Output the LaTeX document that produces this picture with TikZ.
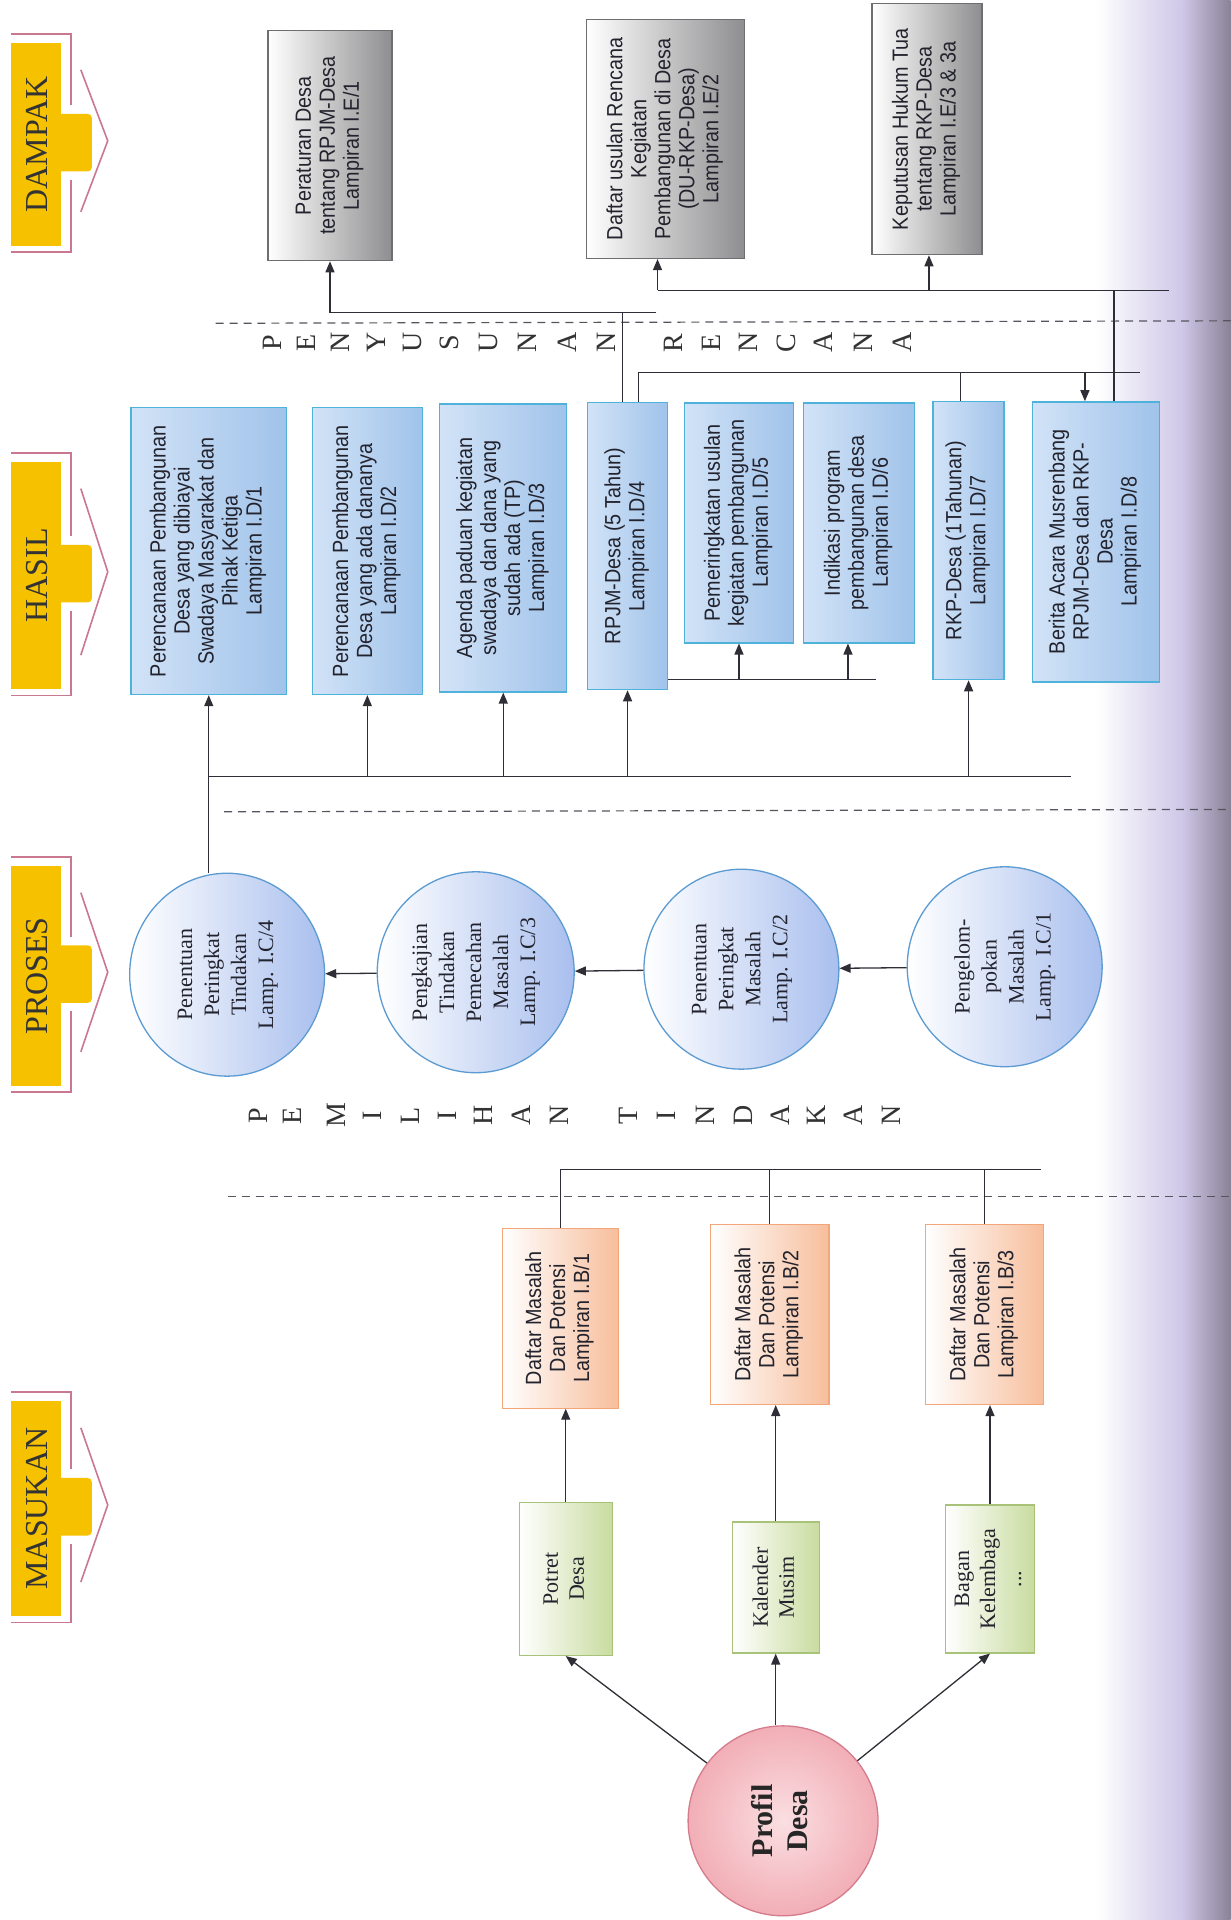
\documentclass[tikz,border=0pt]{standalone}
\usepackage{fontspec}
\setmainfont{Liberation Serif}
\newfontfamily\cond[FakeStretch=0.9]{Liberation Sans}
\usetikzlibrary{arrows.meta,shapes.geometric,calc}
\definecolor{labY}{HTML}{F6C200}
\definecolor{labP}{HTML}{C9788F}
\definecolor{hasL}{HTML}{D2E3F7}
\definecolor{hasR}{HTML}{A0C3EA}
\definecolor{hasB}{HTML}{4FB2DA}
\definecolor{ellR}{HTML}{A9BFEE}
\definecolor{ellB}{HTML}{5C9BD2}
\definecolor{orR}{HTML}{F7BE9C}
\definecolor{orB}{HTML}{F2A679}
\definecolor{grR}{HTML}{C9DCA0}
\definecolor{grB}{HTML}{A9C27A}
\definecolor{gyR}{HTML}{8E8E90}
\definecolor{gyB}{HTML}{6E6E72}
\definecolor{pfF}{HTML}{F2AEB6}
\definecolor{pfB}{HTML}{D47C8C}
\definecolor{lineC}{HTML}{2E2E36}
\definecolor{dashC}{HTML}{55555F}
\definecolor{txtC}{HTML}{23232E}
\definecolor{edgeM}{HTML}{CFC8E8}
\definecolor{edgeD}{HTML}{8A8296}
\newcommand{\rt}[1]{\rotatebox{90}{\begin{tabular}{@{}c@{}}#1\end{tabular}}}
\tikzset{
  ln/.style={draw=lineC, line width=1.3pt},
  arr/.style={ln, -{Triangle[length=11pt,width=9pt]}},
  sep/.style={draw=dashC, line width=1.2pt, dash pattern=on 8pt off 6pt},
  boxtxt/.style={font=\cond\fontsize{22}{24}\selectfont, text=txtC, inner sep=0pt},
  hbox/.style={boxtxt, draw=hasB, line width=1.4pt, left color=hasL, right color=hasR},
  dbox/.style={boxtxt, draw=gyB, line width=1.3pt, left color=white, right color=gyR},
  obox/.style={boxtxt, draw=orB, line width=1.2pt, left color=white, right color=orR},
  gbox/.style={draw=grB, line width=1.2pt, left color=white, right color=grR,
     font=\fontsize{22}{26}\selectfont, text=txtC, inner sep=0pt},
  pell/.style={ellipse, draw=ellB, line width=1.3pt, left color=white, right color=ellR,
     font=\fontsize{22}{27}\selectfont, text=txtC, inner sep=0pt},
  ltr/.style={rotate=90, font=\fontsize{28}{28}\selectfont, text=black!80, inner sep=0pt},
  labtxt/.style={rotate=90, font=\fontsize{32}{32}\selectfont, text=black!80, inner sep=0pt},
  labpink/.style={draw=labP, line width=1.6pt}
}
\begin{document}
\begin{tikzpicture}[x=1.2249pt,y=-1.2249pt]
\useasboundingbox (0,0) rectangle (1005,1568);
\fill[white] (0,0) rectangle (1005,1568);
% scanned page edge
\shade[left color=white, right color=edgeM] (895,0) rectangle (965,1568);
\shade[left color=edgeM, right color=edgeD] (965,0) rectangle (1005,1568);

% column labels
\foreach \cy/\hh/\txt [count=\i] in {118/83/DAMPAK, 470/93/HASIL, 797/90/PROSES, 1232/88/MASUKAN}{
  \fill[labY] (9,\cy-\hh) rectangle (50,\cy+\hh);
  \fill[labY, rounded corners=4pt] (45,\cy-25) rectangle (75,\cy+22);
  \draw[labpink] (9,\cy-\hh-7) -- (58,\cy-\hh-7) -- (58,\cy-32);
  \draw[labpink] (58,\cy+29) -- (58,\cy+\hh+5) -- (9,\cy+\hh+5);
  \draw[labpink] (66,\cy-\hh+22) -- (88,\cy-3) -- (66,\cy+\hh-28);
  \node[labtxt] (lab\i) at (30,\cy) {\txt};
}

% dashed separators
\draw[sep] (176,264) -- (1005,262);
\draw[sep] (183,663) -- (1005,661);
\draw[sep] (186,977) -- (1005,977);

% spaced words
\foreach \ch/\xx [count=\i] in {P/222,E/250,N/278,Y/307,U/337,S/367,U/399,N/431,A/463,N/495}
  \node[ltr] (pa\i) at (\xx,280) {\ch};
\foreach \ch/\xx [count=\i] in {R/550,E/581,N/611,C/642,A/672,N/705,A/737}
  \node[ltr] (pb\i) at (\xx,280) {\ch};
\foreach \ch/\xx [count=\i] in {P/211,E/239,M/275,I/304,L/335,I/365,H/395,A/426,N/457}
  \node[ltr] (pc\i) at (\xx,911) {\ch};
\foreach \ch/\xx [count=\i] in {T/513,I/544,N/576,D/607,A/637,K/667,A/697,N/728}
  \node[ltr] (pd\i) at (\xx,911) {\ch};

% DAMPAK boxes
\node[dbox, minimum height=230pt, minimum width=124pt] (E1) at (269.5,119)
  {\rt{Peraturan Desa\\tentang RPJM-Desa\\Lampiran I.E/1}};
\node[dbox, minimum height=239pt, minimum width=158pt] (E2) at (543.5,113.5)
  {\rt{Daftar usulan Rencana\\Kegiatan\\Pembangunan di Desa\\(DU-RKP-Desa)\\Lampiran I.E/2}};
\node[dbox, minimum height=251pt, minimum width=110pt] (E3) at (757,105.5)
  {\rt{Keputusan Hukum Tua\\tentang RKP-Desa\\Lampiran I.E/3 \& 3a}};

% HASIL boxes
\node[hbox, minimum height=287pt, minimum width=156pt] (D1) at (170.5,450)
  {\rt{Perencanaan Pembangunan\\Desa yang dibiayai\\Swadaya Masyarakat dan\\Pihak Ketiga\\Lampiran I.D/1}};
\node[hbox, minimum height=287pt, minimum width=110pt] (D2) at (300,450)
  {\rt{Perencanaan Pembangunan\\Desa yang ada dananya\\Lampiran I.D/2}};
\node[hbox, minimum height=288pt, minimum width=127pt] (D3) at (411,447.5)
  {\rt{Agenda paduan kegiatan\\swadaya dan dana yang\\sudah ada (TP)\\Lampiran I.D/3}};
\node[hbox, minimum height=287pt, minimum width=80pt] (D4) at (512.5,446)
  {\rt{RPJM-Desa (5 Tahun)\\Lampiran I.D/4}};
\node[hbox, minimum height=240pt, minimum width=109pt] (D5) at (603.5,427)
  {\rt{Pemeringkatan usulan\\kegiatan pembangunan\\Lampiran I.D/5}};
\node[hbox, minimum height=240pt, minimum width=111pt] (D6) at (701.5,427)
  {\rt{Indikasi program\\pembangunan desa\\Lampiran I.D/6}};
\node[hbox, minimum height=278pt, minimum width=71pt] (D7) at (791,441.5)
  {\rt{RKP-Desa (1Tahunan)\\Lampiran I.D/7}};
\node[hbox, minimum height=280pt, minimum width=127pt] (D8) at (895,442.5)
  {\rt{Berita Acara Musrenbang\\RPJM-Desa dan RKP-\\Desa\\Lampiran I.D/8}};

% PROSES ellipses
\node[pell, minimum height=203pt, minimum width=195pt] (C4) at (185.5,796)
  {\rt{Penentuan\\Peringkat\\Tindakan\\Lamp. I.C/4}};
\node[pell, minimum height=201pt, minimum width=197pt] (C3) at (388.5,794)
  {\rt{Pengkajian\\Tindakan\\Pemecahan\\Masalah\\Lamp. I.C/3}};
\node[pell, minimum height=200pt, minimum width=195pt] (C2) at (605.5,791.5)
  {\rt{Penentuan\\Peringkat\\Masalah\\Lamp. I.C/2}};
\node[pell, minimum height=200pt, minimum width=195pt] (C1) at (820.5,789.5)
  {\rt{Pengelom-\\pokan\\Masalah\\Lamp. I.C/1}};

% MASUKAN boxes
\node[obox, minimum height=180pt, minimum width=116pt] (B1) at (457.5,1076.5)
  {\rt{Daftar Masalah\\Dan Potensi\\Lampiran I.B/1}};
\node[obox, minimum height=180pt, minimum width=119pt] (B2) at (628.5,1073.5)
  {\rt{Daftar Masalah\\Dan Potensi\\Lampiran I.B/2}};
\node[obox, minimum height=180pt, minimum width=118pt] (B3) at (804,1073.5)
  {\rt{Daftar Masalah\\Dan Potensi\\Lampiran I.B/3}};
\node[gbox, minimum height=153pt, minimum width=93pt] (G1) at (462,1289.5) {\rt{Potret\\Desa}};
\node[gbox, minimum height=131pt, minimum width=87pt] (G2) at (633.5,1296.5) {\rt{Kalender\\Musim}};
\node[gbox, minimum height=148pt, minimum width=89pt] (G3) at (808.5,1289.5) {\rt{Bagan\\Kelembaga\\...}};
\node[circle, minimum size=190pt, draw=pfB, line width=1.3pt, inner color=pfF!40, outer color=pfF,
      font=\bfseries\fontsize{30}{35}\selectfont, text=black!85, inner sep=0pt] (PD) at (639.5,1487)
  {\rt{Profil\\Desa}};

% connectors: MASUKAN
\draw[arr] (PD) -- (G1.south);
\draw[arr] (G2.south |- PD.north) -- (G2.south);
\draw[arr] (PD) -- (G3.south);
\draw[arr] (G1.north) -- (G1.north |- B1.south);
\draw[arr] (G2.north) -- (G2.north |- B2.south);
\draw[arr] (G3.north) -- (G3.north |- B3.south);
\coordinate (bb) at (850,955);
\draw[ln] (B1.north) |- (bb);
\draw[ln] (B2.north) -- (B2.north |- bb);
\draw[ln] (B3.north) -- (B3.north |- bb);

% connectors: PROSES
\draw[arr] (C1) -- (C2);
\draw[arr] (C2) -- (C3);
\draw[arr] (C3) -- (C4);

% connectors: PROSES -> HASIL
\coordinate (hb) at (875,634);
\draw[arr] (C4.north -| D1.south) -- (D1.south);
\draw[ln] (D1.south |- hb) -- (hb);
\foreach \n in {D2,D3,D4,D7} \draw[arr] (\n.south |- hb) -- (\n.south);
\coordinate (hd) at (715,555);
\draw[ln] (D4.east |- hd) -- (hd);
\draw[arr] (D5.south |- hd) -- (D5.south);
\draw[arr] ([xshift=-11pt]D6.south |- hd) -- ([xshift=-11pt]D6.south);

% connectors: HASIL -> DAMPAK
\coordinate (t1) at (536,255);
\draw[ln] ([xshift=-5pt]D4.north) -- ([xshift=-5pt]D4.north |- t1);
\draw[arr] (t1) -| (E1.south);
\coordinate (t2) at (955,237);
\draw[ln] ([xshift=-8pt]E2.south |- t2) -- (t2);
\draw[arr] ([xshift=-8pt]E2.south |- t2) -- ([xshift=-8pt]E2.south);
\draw[arr] ([xshift=2pt]E3.south |- t2) -- ([xshift=2pt]E3.south);
\draw[ln] ([xshift=18pt]D8.north) -- ([xshift=18pt]D8.north |- t2);
\coordinate (t3) at (931,304);
\draw[ln] ([xshift=11pt]D4.north) |- (t3);
\draw[ln] ([xshift=-8pt]D7.north) -- ([xshift=-8pt]D7.north |- t3);
\draw[arr] ([xshift=-11pt]D8.north |- t3) -- ([xshift=-11pt]D8.north);
\end{tikzpicture}
\end{document}
